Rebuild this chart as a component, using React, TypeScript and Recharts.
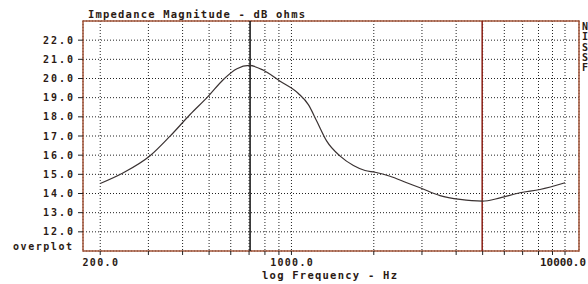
import React from 'react';
import { LineChart, Line, XAxis, YAxis, CartesianGrid, ReferenceArea, ReferenceLine } from 'recharts';

const FREQ = [200, 243, 305, 360, 426, 497, 564, 632, 702, 790, 909, 1060, 1153, 1238, 1346, 1507, 1685, 1858, 2022, 2294, 2640, 2952, 3493, 4134, 4976, 5787, 6846, 8101, 10000];
const MAG = [14.52, 15.08, 15.98, 16.99, 18.12, 19.08, 19.95, 20.51, 20.68, 20.43, 19.86, 19.22, 18.64, 17.77, 16.73, 15.95, 15.46, 15.2, 15.11, 14.9, 14.56, 14.3, 13.89, 13.69, 13.6, 13.77, 14.04, 14.21, 14.56];
const X_TICKS = [200, 300, 400, 500, 600, 700, 800, 900, 1000, 2000, 3000, 4000, 5000, 6000, 7000, 8000, 9000, 10000];
const X_LABELED = [200, 1000, 10000];
const Y_TICKS = [12, 13, 14, 15, 16, 17, 18, 19, 20, 21, 22];
const X_DOMAIN = [173, 11250];
const Y_DOMAIN = [11, 23];
const MARKER_BLACK = 706;
const MARKER_RED = 4980;
const SIDE_LETTERS = ['N', 'I', 'S', 'S', 'F'];

const data = FREQ.map((f, i) => ({ f, m: MAG[i] }));

const FONT = '"DejaVu Sans Mono", monospace';
const TXT = '#2b1a14';

const XTick = (props: any) => {
  const { x, y, payload } = props;
  if (!X_LABELED.includes(payload.value)) return <g />;
  const label = payload.value.toFixed(1);
  const isLast = payload.value === X_LABELED[X_LABELED.length - 1];
  if (isLast) {
    return (
      <text x={540} y={y} dy={8} textAnchor="start" fontFamily={FONT} fontWeight="bold" fontSize={10}
        fill={TXT} textLength={46} lengthAdjust="spacingAndGlyphs">{label}</text>
    );
  }
  return (
    <text x={x} y={y} dy={8} textAnchor="middle" fontFamily={FONT} fontWeight="bold" fontSize={10}
      fill={TXT} textLength={label.length * 7.1} lengthAdjust="spacing">{label}</text>
  );
};

const YTick = (props: any) => {
  const { x, y, payload } = props;
  const label = payload.value.toFixed(1);
  return (
    <text x={x} y={y} dy={3.5} textAnchor="end" fontFamily={FONT} fontWeight="bold" fontSize={10}
      fill={TXT} textLength={label.length * 7.5} lengthAdjust="spacing">{label}</text>
  );
};

export default function App() {
  return (
    <div style={{ position: 'absolute', left: 0, top: 0, width: 588, height: 284, background: '#fff' }}>
      <LineChart width={588} height={284} data={data} margin={{ top: 21, right: 9, left: 0, bottom: 0 }}>
        <CartesianGrid strokeDasharray="1 2" stroke="#222" />
        <XAxis dataKey="f" type="number" scale="log" domain={X_DOMAIN} ticks={X_TICKS} allowDataOverflow
          height={33} tickSize={4} tickMargin={3} axisLine={false} tickLine={{ stroke: '#222' }}
          tick={XTick} interval={0} />
        <YAxis type="number" domain={Y_DOMAIN} ticks={Y_TICKS} allowDataOverflow width={83}
          tickSize={5} tickMargin={5} axisLine={false} tickLine={{ stroke: '#222' }} tick={YTick} interval={0} />
        <ReferenceArea x1={X_DOMAIN[0]} x2={X_DOMAIN[1]} y1={Y_DOMAIN[0]} y2={Y_DOMAIN[1]}
          fill="none" fillOpacity={0} stroke="#a4553a" strokeWidth={1.5} ifOverflow="visible" />
        <ReferenceLine x={MARKER_BLACK} stroke="#111" strokeWidth={1.5} />
        <ReferenceLine x={MARKER_RED} stroke="#8b1e14" strokeWidth={1.5} />
        <Line dataKey="m" type="monotone" stroke="#3a3232" strokeWidth={1.2} dot={false} isAnimationActive={false} />
      </LineChart>
      <svg width={588} height={284} style={{ position: 'absolute', left: 0, top: 0, pointerEvents: 'none' }}>
        <text x={88} y={18} fontFamily={FONT} fontWeight="bold" fontSize={10.5} fill={TXT}
          textLength={217} lengthAdjust="spacing">Impedance Magnitude - dB ohms</text>
        <text x={262} y={279} fontFamily={FONT} fontWeight="bold" fontSize={10.5} fill={TXT}
          textLength={135} lengthAdjust="spacing">log Frequency - Hz</text>
        <text x={13} y={250} fontFamily={FONT} fontWeight="bold" fontSize={10} fill={TXT}
          textLength={59} lengthAdjust="spacing">overplot</text>
        {SIDE_LETTERS.map((s, i) => (
          <text key={i} x={582} y={30 + i * 10.3} fontFamily={FONT} fontWeight="bold" fontSize={10} fill={TXT}>{s}</text>
        ))}
      </svg>
    </div>
  );
}
